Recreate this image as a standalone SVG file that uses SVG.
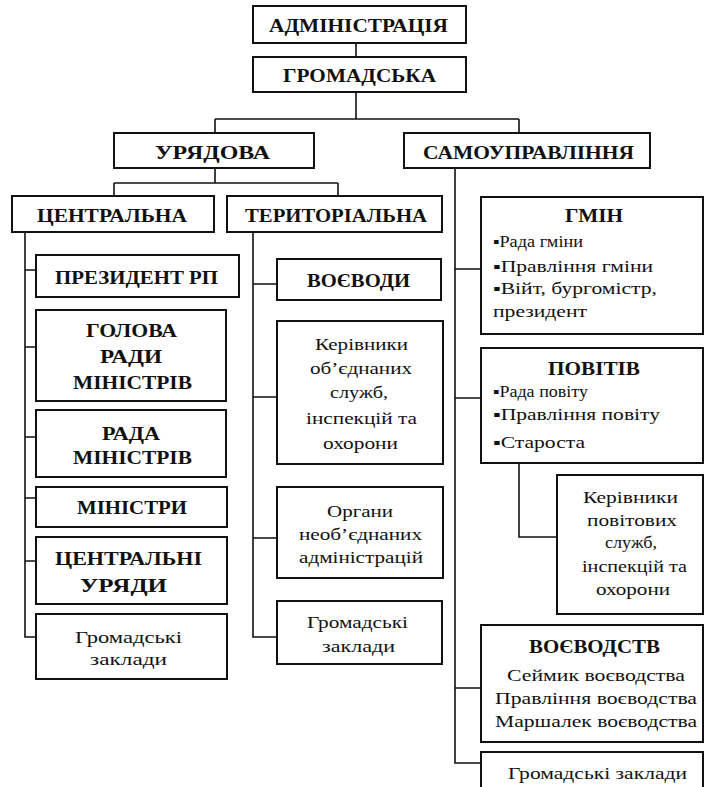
<svg xmlns="http://www.w3.org/2000/svg" width="705" height="787" viewBox="0 0 705 787" font-family="'Liberation Serif', 'Times New Roman', serif">
<style>
.bx{fill:#fff;stroke:#111;stroke-width:2}
.ln{fill:none;stroke:#111;stroke-width:1.6}
.b{font-weight:bold;font-size:19px;fill:#111}
.r{font-size:16px;fill:#111}
</style>
<rect width="705" height="787" fill="#fff"/>
<g id="connectors">
<path class="ln" d="M356,43V57M356,92V119M215,119H519M215,119V133M519,119V133"/>
<path class="ln" d="M215,168V183M114,183H338M114,183V196M338,183V196"/>
<path class="ln" d="M25,232V637H36M25,270H36M25,347H36M25,437H36M25,498H36M25,561H36"/>
<path class="ln" d="M253,232V637H277M253,284H277M253,397H277M253,538H277"/>
<path class="ln" d="M455,168V763H481M455,269H481M455,398H481M455,688H481"/>
<path class="ln" d="M519,463V537H557"/>
</g>
<g id="n-admin"><rect class="bx" x="253" y="6" width="213" height="37"/><text class="b" x="269" y="32" textLength="179" lengthAdjust="spacingAndGlyphs">АДМІНІСТРАЦІЯ</text></g>
<g id="n-hrom"><rect class="bx" x="253" y="57" width="213" height="35"/><text class="b" x="283" y="82" textLength="153" lengthAdjust="spacingAndGlyphs">ГРОМАДСЬКА</text></g>
<g id="n-uriad"><rect class="bx" x="114" y="133" width="200" height="35"/><text class="b" x="155" y="159" textLength="115" lengthAdjust="spacingAndGlyphs">УРЯДОВА</text></g>
<g id="n-samo"><rect class="bx" x="404" y="133" width="246" height="35"/><text class="b" x="423" y="159" textLength="211" lengthAdjust="spacingAndGlyphs">САМОУПРАВЛІННЯ</text></g>
<g id="n-centr"><rect class="bx" x="12" y="196" width="202" height="36"/><text class="b" x="37" y="222" textLength="150" lengthAdjust="spacingAndGlyphs">ЦЕНТРАЛЬНА</text></g>
<g id="n-terr"><rect class="bx" x="227" y="196" width="215" height="36"/><text class="b" x="245" y="222" textLength="182" lengthAdjust="spacingAndGlyphs">ТЕРИТОРІАЛЬНА</text></g>
<g id="n-prez"><rect class="bx" x="36" y="255" width="203" height="42"/><text class="b" x="55" y="284" textLength="163" lengthAdjust="spacingAndGlyphs">ПРЕЗИДЕНТ РП</text></g>
<g id="n-holova"><rect class="bx" x="36" y="310" width="190" height="91"/><text class="b" x="86" y="337" textLength="91" lengthAdjust="spacingAndGlyphs">ГОЛОВА</text><text class="b" x="100" y="363" textLength="62" lengthAdjust="spacingAndGlyphs">РАДИ</text><text class="b" x="73" y="389" textLength="119" lengthAdjust="spacingAndGlyphs">МІНІСТРІВ</text></g>
<g id="n-rada"><rect class="bx" x="36" y="410" width="190" height="67"/><text class="b" x="102" y="440" textLength="58" lengthAdjust="spacingAndGlyphs">РАДА</text><text class="b" x="73" y="464" textLength="119" lengthAdjust="spacingAndGlyphs">МІНІСТРІВ</text></g>
<g id="n-minist"><rect class="bx" x="36" y="487" width="191" height="40"/><text class="b" x="77" y="514" textLength="110" lengthAdjust="spacingAndGlyphs">МІНІСТРИ</text></g>
<g id="n-cur"><rect class="bx" x="36" y="537" width="191" height="67"/><text class="b" x="55" y="565" textLength="147" lengthAdjust="spacingAndGlyphs">ЦЕНТРАЛЬНІ</text><text class="b" x="80" y="592" textLength="87" lengthAdjust="spacingAndGlyphs">УРЯДИ</text></g>
<g id="n-hz1"><rect class="bx" x="36" y="614" width="191" height="65"/><text class="r" x="75" y="643" textLength="107" lengthAdjust="spacingAndGlyphs">Громадські</text><text class="r" x="90" y="665" textLength="77" lengthAdjust="spacingAndGlyphs">заклади</text></g>
<g id="n-voevody"><rect class="bx" x="277" y="259" width="164" height="41"/><text class="b" x="307" y="287" textLength="103" lengthAdjust="spacingAndGlyphs">ВОЄВОДИ</text></g>
<g id="n-kerob"><rect class="bx" x="277" y="321" width="166" height="143"/><text class="r" x="315" y="350" textLength="93" lengthAdjust="spacingAndGlyphs">Керівники</text><text class="r" x="310" y="374" textLength="102" lengthAdjust="spacingAndGlyphs">об’єднаних</text><text class="r" x="330" y="398" textLength="58" lengthAdjust="spacingAndGlyphs">служб,</text><text class="r" x="306" y="424" textLength="111" lengthAdjust="spacingAndGlyphs">інспекцій та</text><text class="r" x="323" y="449" textLength="75" lengthAdjust="spacingAndGlyphs">охорони</text></g>
<g id="n-organy"><rect class="bx" x="277" y="487" width="166" height="91"/><text class="r" x="327" y="517" textLength="66" lengthAdjust="spacingAndGlyphs">Органи</text><text class="r" x="299" y="540" textLength="123" lengthAdjust="spacingAndGlyphs">необ’єднаних</text><text class="r" x="299" y="563" textLength="124" lengthAdjust="spacingAndGlyphs">адміністрацій</text></g>
<g id="n-hz2"><rect class="bx" x="277" y="601" width="165" height="63"/><text class="r" x="307" y="628" textLength="101" lengthAdjust="spacingAndGlyphs">Громадські</text><text class="r" x="322" y="652" textLength="73" lengthAdjust="spacingAndGlyphs">заклади</text></g>
<g id="n-hmin"><rect class="bx" x="481" y="197" width="222" height="137"/><text class="b" x="565" y="222" textLength="58" lengthAdjust="spacingAndGlyphs">ГМІН</text><text class="r" x="493" y="247" textLength="90" lengthAdjust="spacingAndGlyphs">▪Рада гміни</text><text class="r" x="493" y="272" textLength="160" lengthAdjust="spacingAndGlyphs">▪Правління гміни</text><text class="r" x="493" y="294" textLength="164" lengthAdjust="spacingAndGlyphs">▪Війт, бургомістр,</text><text class="r" x="493" y="317" textLength="94" lengthAdjust="spacingAndGlyphs">президент</text></g>
<g id="n-povit"><rect class="bx" x="481" y="348" width="222" height="115"/><text class="b" x="548" y="375" textLength="92" lengthAdjust="spacingAndGlyphs">ПОВІТІВ</text><text class="r" x="493" y="397" textLength="95" lengthAdjust="spacingAndGlyphs">▪Рада повіту</text><text class="r" x="493" y="420" textLength="167" lengthAdjust="spacingAndGlyphs">▪Правління повіту</text><text class="r" x="493" y="448" textLength="92" lengthAdjust="spacingAndGlyphs">▪Староста</text></g>
<g id="n-kerpov"><rect class="bx" x="557" y="475" width="146" height="139"/><text class="r" x="583" y="503" textLength="95" lengthAdjust="spacingAndGlyphs">Керівники</text><text class="r" x="587" y="526" textLength="90" lengthAdjust="spacingAndGlyphs">повітових</text><text class="r" x="605" y="548" textLength="52" lengthAdjust="spacingAndGlyphs">служб,</text><text class="r" x="582" y="572" textLength="105" lengthAdjust="spacingAndGlyphs">інспекцій та</text><text class="r" x="596" y="595" textLength="74" lengthAdjust="spacingAndGlyphs">охорони</text></g>
<g id="n-voevodstv"><rect class="bx" x="481" y="625" width="222" height="117"/><text class="b" x="529" y="653" textLength="131" lengthAdjust="spacingAndGlyphs">ВОЄВОДСТВ</text><text class="r" x="507" y="681" textLength="178" lengthAdjust="spacingAndGlyphs">Сеймик воєводства</text><text class="r" x="495" y="704" textLength="202" lengthAdjust="spacingAndGlyphs">Правління воєводства</text><text class="r" x="495" y="727" textLength="202" lengthAdjust="spacingAndGlyphs">Маршалек воєводства</text></g>
<g id="n-hz3"><rect class="bx" x="481" y="752" width="222" height="60"/><text class="r" x="508" y="779" textLength="179" lengthAdjust="spacingAndGlyphs">Громадські заклади</text></g>
</svg>
